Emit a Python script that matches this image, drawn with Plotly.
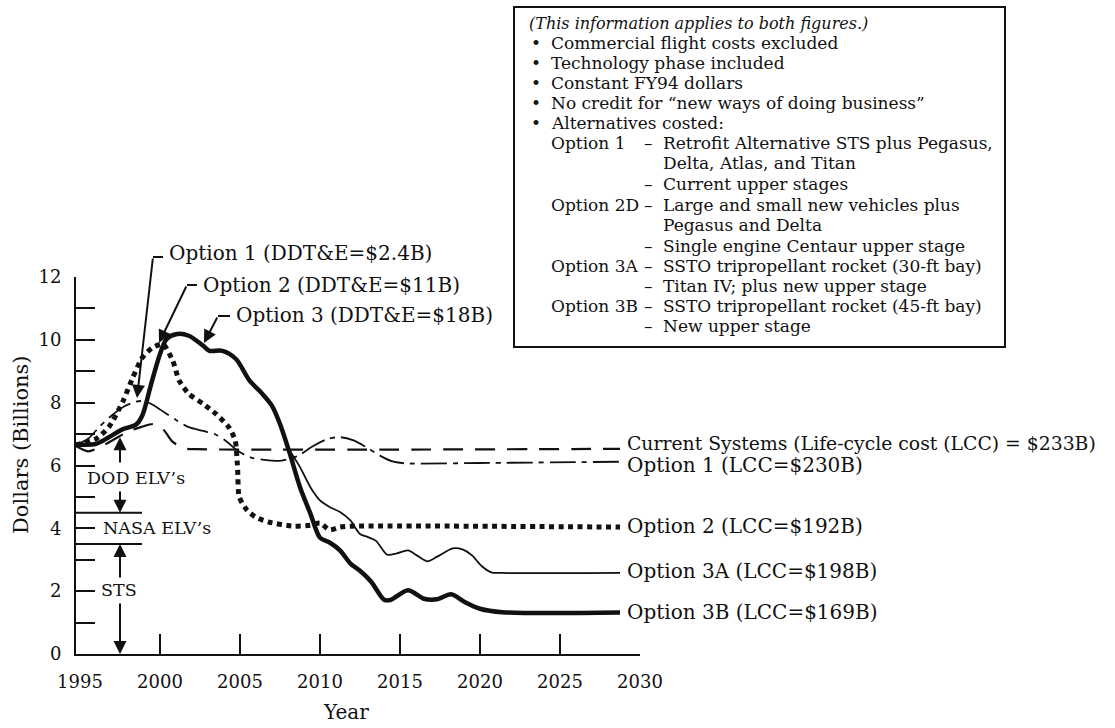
import plotly.graph_objects as go

# ---- series (year, billions of FY94 dollars) ----
years_current = [1994.75, 1995.5, 1996.3, 1997.2, 1998.0, 1998.8, 1999.6, 2000.2, 2000.8, 2001.5, 2002.3, 2028.75]
vals_current = [6.62, 6.45, 6.6, 6.85, 7.08, 7.22, 7.32, 7.15, 6.75, 6.55, 6.52, 6.53]

years_opt1 = [1994.75, 1995.5, 1996.25, 1997.0, 1997.75, 1998.5, 1999.0, 1999.6, 2000.3, 2001.0,
              2001.8, 2002.7, 2003.5, 2004.2, 2004.9, 2005.7, 2006.5, 2007.5, 2008.6, 2009.6,
              2010.5, 2011.3, 2012.1, 2012.9, 2013.8, 2014.6, 2015.3, 2020.0, 2028.75]
vals_opt1 = [6.65, 6.85, 7.25, 7.6, 7.88, 8.03, 8.05, 7.92, 7.68, 7.45,
             7.22, 7.1, 6.98, 6.75, 6.45, 6.25, 6.18, 6.15, 6.3, 6.63,
             6.85, 6.9, 6.8, 6.58, 6.3, 6.12, 6.07, 6.08, 6.12]

years_opt2 = [1994.75, 1996.0, 1996.8, 1997.7, 1998.3, 1998.9, 1999.55, 2000.2, 2000.8, 2001.2,
              2001.8, 2002.7, 2003.5, 2004.3, 2004.7, 2004.85, 2004.95, 2005.45, 2006.0, 2006.8,
              2008.3, 2009.4, 2010.0, 2010.6, 2011.25, 2012.0, 2028.75]
vals_opt2 = [6.65, 6.85, 7.22, 8.06, 8.8, 9.44, 9.76, 9.86, 9.33, 8.7,
             8.28, 7.96, 7.64, 7.22, 6.8, 5.9, 5.0, 4.57, 4.35, 4.2,
             4.07, 4.1, 4.17, 3.95, 4.04, 4.07, 4.04]

years_opt3a = [2006.4, 2007.0, 2007.5, 2008.1, 2008.75, 2009.4, 2010.0, 2010.6, 2011.25, 2011.9,
               2012.5, 2013.0, 2013.5, 2014.2, 2014.8, 2015.5, 2016.05, 2016.7, 2017.3, 2018.3,
               2018.9, 2019.5, 2020.1, 2020.7, 2021.3, 2028.75]
vals_opt3a = [8.28, 7.85, 7.32, 6.5, 5.95, 5.31, 4.89, 4.68, 4.52, 4.25,
              3.82, 3.72, 3.6, 3.16, 3.2, 3.3, 3.14, 2.95, 3.09, 3.36,
              3.33, 3.14, 2.8, 2.6, 2.58, 2.58]

years_opt3b = [1994.75, 1996.0, 1996.8, 1997.7, 1998.5, 1998.9, 1999.45, 2000.0, 2000.4, 2001.0,
               2001.8, 2002.7, 2003.1, 2003.9, 2004.75, 2005.6, 2006.4, 2007.0, 2007.5, 2008.1,
               2008.75, 2009.4, 2010.0, 2010.6, 2011.25, 2011.9, 2012.5, 2013.2, 2014.0, 2014.4,
               2015.5, 2016.5, 2017.3, 2018.2, 2019.1, 2020.0, 2021.4, 2028.75]
vals_opt3b = [6.67, 6.69, 6.9, 7.16, 7.3, 7.6, 8.6, 9.55, 10.02, 10.18,
              10.13, 9.81, 9.65, 9.65, 9.39, 8.7, 8.28, 7.9, 7.32, 6.4,
              5.31, 4.47, 3.7, 3.55, 3.3, 2.88, 2.65, 2.3, 1.73, 1.72,
              2.03, 1.76, 1.74, 1.9, 1.64, 1.44, 1.33, 1.32]

series_labels = ["Current Systems (Life-cycle cost (LCC) = $233B)",
                 "Option 1 (LCC=$230B)", "Option 2 (LCC=$192B)",
                 "Option 3A (LCC=$198B)", "Option 3B (LCC=$169B)"]
callout_labels = ["Option 1 (DDT&E=$2.4B)", "Option 2 (DDT&E=$11B)", "Option 3 (DDT&E=$18B)"]

x_ticks = [1995, 2000, 2005, 2010, 2015, 2020, 2025, 2030]
y_ticks = list(range(0, 13))

# ---- geometry ----
W, H = 1115, 728
PL, PR, PT, PB = 76, 640, 277, 654
X0, X1 = 1994.75, 2030
YSCALE = (PB - PT) / 12.0
FONT = "DejaVu Serif"
INK = "#111"


def pxp(x):
    return (x - PL) / (PR - PL)


def pyp(y):
    return (PB - y) / (PB - PT)


def yr(x):
    return X0 + (x - PL) * (X1 - X0) / (PR - PL)


fig = go.Figure()

line_common = dict(mode="lines", hoverinfo="skip", showlegend=False, line_shape="spline")
fig.add_trace(go.Scatter(x=years_current, y=vals_current,
                         line=dict(color=INK, width=2.2, dash="20px,12px", smoothing=0.8), **line_common))
fig.add_trace(go.Scatter(x=years_opt1, y=vals_opt1,
                         line=dict(color=INK, width=1.8, dash="26px,6px,5px,6px", smoothing=0.8), **line_common))
fig.add_trace(go.Scatter(x=years_opt2, y=vals_opt2,
                         line=dict(color=INK, width=5, dash="5px,4.5px", smoothing=0.6), **line_common))
fig.add_trace(go.Scatter(x=years_opt3a, y=vals_opt3a,
                         line=dict(color=INK, width=1.8, smoothing=0.8), **line_common))
fig.add_trace(go.Scatter(x=years_opt3b, y=vals_opt3b,
                         line=dict(color=INK, width=4.5, smoothing=0.8), **line_common))
# carrier trace for the tick-only overlay axis
fig.add_trace(go.Scatter(x=[2030], y=[0], xaxis="x2", mode="markers",
                         marker=dict(opacity=0), hoverinfo="skip", showlegend=False))

annotations = []
shapes = []

# right-hand series labels
label_y = [443, 465, 526, 571, 612]
label_size = [18.8, 20, 20, 20, 20]
for txt, ypix, fs in zip(series_labels, label_y, label_size):
    annotations.append(dict(xref="paper", yref="paper", x=pxp(625), y=pyp(ypix), text=txt,
                            showarrow=False, xanchor="left", yanchor="middle",
                            font=dict(family=FONT, size=fs, color=INK)))

# callouts with bent leaders
callout_text_pos = [(167, 253), (201, 285), (234, 315)]
callout_elbow = [(153, 257), (187, 285), (218, 316)]
callout_tip = [(137, 398), (159, 343), (204, 343)]
for txt, (tx, ty), (ex, ey), (ax_, ay_) in zip(callout_labels, callout_text_pos, callout_elbow, callout_tip):
    annotations.append(dict(xref="paper", yref="paper", x=pxp(tx), y=pyp(ty), text=txt,
                            showarrow=False, xanchor="left", yanchor="middle",
                            font=dict(family=FONT, size=20, color=INK)))
    shapes.append(dict(type="line", xref="paper", yref="paper", x0=pxp(ex), y0=pyp(ey),
                       x1=pxp(tx - 4), y1=pyp(ey), line=dict(color=INK, width=2)))
    annotations.append(dict(x=yr(ax_), y=(PB - ay_) / YSCALE, xref="x", yref="y", text="",
                            showarrow=True, arrowhead=2, arrowsize=1.3, arrowwidth=2,
                            arrowcolor=INK, ax=ex - ax_, ay=ey - ay_, standoff=0, startstandoff=0))

# component brackets on the y axis
for yv in (4.5, 3.5):
    shapes.append(dict(type="line", xref="x", yref="y", x0=X0, x1=yr(142), y0=yv, y1=yv,
                       line=dict(color=INK, width=2)))
arrow_x = yr(120)
for tail_px, tip_val in [(464, 6.9), (490, 4.5), (579, 3.5), (602, 0.0)]:
    tip_px = PB - tip_val * YSCALE
    annotations.append(dict(x=arrow_x, y=tip_val, xref="x", yref="y", text="", showarrow=True,
                            arrowhead=2, arrowsize=1.3, arrowwidth=2, arrowcolor=INK,
                            ax=0, ay=tail_px - tip_px, standoff=0, startstandoff=0))
for txt, xc, ypix in [("DOD ELV’s", 136, 478), ("NASA ELV’s", 157, 528), ("STS", 119, 590)]:
    annotations.append(dict(xref="paper", yref="paper", x=pxp(xc), y=pyp(ypix), text=txt,
                            showarrow=False, xanchor="center", yanchor="middle",
                            font=dict(family=FONT, size=17.5, color=INK)))

# axis titles
annotations.append(dict(xref="paper", yref="paper", x=pxp(21), y=pyp(445), text="Dollars (Billions)",
                        textangle=-90, showarrow=False, xanchor="center", yanchor="middle",
                        font=dict(family=FONT, size=21, color=INK)))
annotations.append(dict(xref="paper", yref="paper", x=pxp(346), y=pyp(712), text="Year",
                        showarrow=False, xanchor="center", yanchor="middle",
                        font=dict(family=FONT, size=20, color=INK)))

# notes box
BOX_L, BOX_T, BOX_R, BOX_B = 514, 7, 1005, 347
shapes.append(dict(type="rect", xref="paper", yref="paper", x0=pxp(BOX_L), x1=pxp(BOX_R),
                   y0=pyp(BOX_T), y1=pyp(BOX_B), line=dict(color=INK, width=2),
                   fillcolor="white", layer="below"))
note_rows = [
    (23, "<i>(This information applies to both figures.)</i>", None, None, True),
    (43, "Commercial flight costs excluded", None, None, False),
    (63, "Technology phase included", None, None, False),
    (83, "Constant FY94 dollars", None, None, False),
    (103, "No credit for “new ways of doing business”", None, None, False),
    (123, "Alternatives costed:", None, None, False),
    (143, "Option 1", "–", "Retrofit Alternative STS plus Pegasus,", None),
    (163, None, None, "Delta, Atlas, and Titan", None),
    (184, None, "–", "Current upper stages", None),
    (205, "Option 2D", "–", "Large and small new vehicles plus", None),
    (225, None, None, "Pegasus and Delta", None),
    (246, None, "–", "Single engine Centaur upper stage", None),
    (266, "Option 3A", "–", "SSTO tripropellant rocket (30-ft bay)", None),
    (286, None, "–", "Titan IV; plus new upper stage", None),
    (306, "Option 3B", "–", "SSTO tripropellant rocket (45-ft bay)", None),
    (326, None, "–", "New upper stage", None),
]
note_font = dict(family=FONT, size=17, color=INK)
head_font = dict(family=FONT, size=16, color=INK)


def note(xpix, ypix, text, font=note_font):
    annotations.append(dict(xref="paper", yref="paper", x=pxp(xpix), y=pyp(ypix), text=text,
                            showarrow=False, xanchor="left", yanchor="middle", font=font))


for ypix, first, dash, rest, bullet in note_rows:
    if bullet is True:
        note(527, ypix, first, head_font)
        continue
    if bullet is False:
        note(529, ypix, "•")
        note(549, ypix, first)
        continue
    if first:
        note(549, ypix, first)
    if dash:
        note(642, ypix, dash)
    if rest:
        note(661, ypix, rest)

fig.update_layout(
    width=W, height=H,
    margin=dict(l=PL, r=W - PR, t=PT, b=H - PB, pad=0),
    paper_bgcolor="white", plot_bgcolor="white",
    showlegend=False,
    xaxis=dict(range=[X0, X1], tickvals=x_ticks, ticktext=[str(v) for v in x_ticks],
               ticks="", showgrid=False, zeroline=False, showline=True, linecolor=INK,
               linewidth=2, tickfont=dict(family=FONT, size=18, color=INK),
               ticklabelstandoff=10),
    xaxis2=dict(range=[X0, X1], overlaying="x", anchor="y", side="bottom",
                tickvals=x_ticks[1:], ticks="inside", ticklen=20, tickwidth=2, tickcolor=INK,
                showticklabels=False, showgrid=False, zeroline=False, showline=False),
    yaxis=dict(range=[0, 12], tickvals=y_ticks,
               ticktext=[str(v) if v % 2 == 0 else "" for v in y_ticks],
               ticks="inside", ticklen=19, tickwidth=2, tickcolor=INK,
               showgrid=False, zeroline=False, showline=True, linecolor=INK, linewidth=2,
               tickfont=dict(family=FONT, size=18, color=INK), ticklabelstandoff=9),
    annotations=annotations,
    shapes=shapes,
)

fig.write_html("out.html")
